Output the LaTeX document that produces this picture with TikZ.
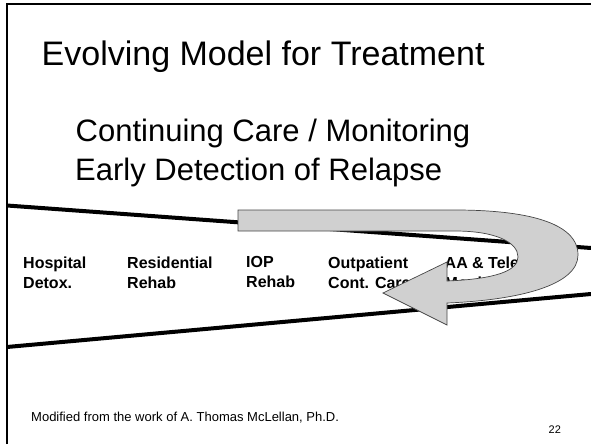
\documentclass[tikz,border=0pt]{standalone}
\usepackage{fontspec}
\setmainfont{Liberation Sans}
\definecolor{arrowfill}{RGB}{208,208,208}
\definecolor{arrowline}{RGB}{70,70,70}
\tikzset{
  frameline/.style={line width=2pt, black},
  funnel/.style={line width=4pt, black},
  titletext/.style={anchor=base west, inner sep=0pt, font=\fontsize{34}{40}\selectfont},
  subtext/.style={anchor=base west, inner sep=0pt, font=\fontsize{31}{39}\selectfont},
  stagelabel/.style={anchor=north west, inner sep=0pt, align=left, font=\fontsize{16}{20}\selectfont\bfseries},
  foottext/.style={anchor=base west, inner sep=0pt, font=\fontsize{13}{15}\selectfont},
  uturn/.style={fill=arrowfill, draw=arrowline, line width=0.7pt, line join=miter}
}
\begin{document}
\begin{tikzpicture}[x=1pt,y=-1pt]
\useasboundingbox (0,0) rectangle (591,444);
% frame
\coordinate (fTL) at (7,4);
\coordinate (fTR) at (591,4);
\coordinate (fBL) at (7,444);
\draw[frameline] (fBL) -- (fTL) -- (fTR);
% titles
\node[titletext] (title) at (41.5,66) {Evolving Model for Treatment};
\node[subtext] (sub1) at (75.5,141) {Continuing Care / Monitoring};
\node[subtext] (sub2) at (75,180.5) {Early Detection of Relapse};
% funnel lines
\coordinate (uL) at (7,205.5);
\coordinate (uR) at (591,248);
\coordinate (lL) at (7,347);
\coordinate (lR) at (591,294);
\draw[funnel] (uL) -- (uR);
\draw[funnel] (lL) -- (lR);
% stage labels
\node[stagelabel] (hosp) at (23,256.5) {Hospital\\Detox.};
\node[stagelabel] (resi) at (127,256.5) {Residential\\Rehab};
\node[stagelabel] (iop) at (246,256.5) {IOP\\Rehab};
\node[stagelabel] (outp) at (328,256.5) {Outpatient\\Cont. Care};
\node[stagelabel] (aa) at (444.5,256.5) {AA \& Tele\\Monitoring};
% U-turn arrow
\draw[uturn] (238,210) -- (455,210)
  .. controls (525,210) and (578,222) .. (578,255)
  .. controls (578,285) and (520,300) .. (447,303)
  -- (447,325) -- (383,293) -- (447,262) -- (447,281)
  .. controls (495,279) and (518,271) .. (518,257)
  .. controls (518,242) and (495,231) .. (455,231)
  -- (238,231) -- cycle;
% footer
\node[foottext] (foot) at (31,421) {Modified from the work of A. Thomas McLellan, Ph.D.};
\node[anchor=base west, inner sep=0pt, font=\fontsize{11}{13}\selectfont] (pnum) at (548.5,433.3) {22};
\end{tikzpicture}
\end{document}
